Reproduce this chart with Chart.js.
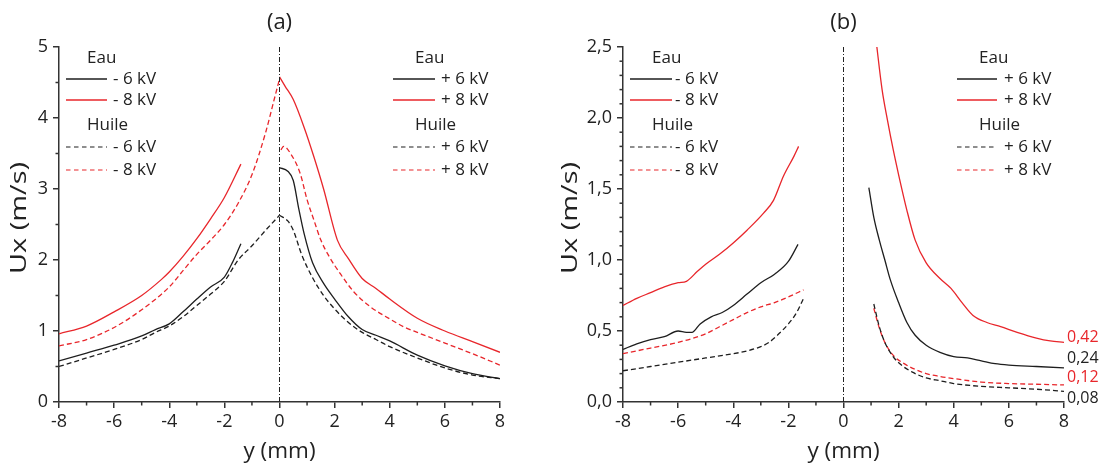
<!DOCTYPE html>
<html><head><meta charset="utf-8">
<script src="https://cdn.jsdelivr.net/npm/chart.js@4.4.1/dist/chart.umd.min.js"></script>
<style>
html,body{margin:0;padding:0;background:#fff;}
#wrap{position:relative;width:1105px;height:471px;overflow:hidden;background:#fff;}
canvas{position:absolute;top:0;}
#ca{left:0;} #cb{left:550px;}
</style></head><body>
<div id="wrap"><canvas id="ca" width="550" height="471"></canvas><canvas id="cb" width="555" height="471"></canvas></div>
<script>
// ---------- DATA ----------
// Panel (a)
const aEauM6   = [[-8,0.58],[-7,0.69],[-6,0.8],[-5,0.93],[-4.5,1.02],[-4,1.1],[-3.5,1.27],[-3,1.45],[-2.5,1.62],[-2,1.76],[-1.7,1.97],[-1.4,2.23]];
const aEauM8   = [[-8,0.96],[-7,1.07],[-6,1.27],[-5,1.5],[-4.3,1.72],[-4,1.83],[-3.5,2.05],[-3,2.3],[-2.5,2.58],[-2,2.88],[-1.4,3.35]];
const aHuileM6 = [[-8,0.5],[-7,0.62],[-6,0.74],[-5,0.88],[-4.5,0.98],[-4,1.07],[-3.5,1.2],[-3,1.36],[-2.5,1.52],[-2,1.7],[-1.5,2.0],[-1,2.2],[-0.5,2.42],[0,2.63]];
const aHuileM8 = [[-8,0.79],[-7,0.88],[-6,1.05],[-5,1.3],[-4,1.62],[-3.5,1.85],[-3,2.08],[-2.5,2.28],[-2,2.5],[-1.5,2.8],[-1,3.2],[-0.5,3.8],[-0.2,4.25],[0,4.55]];
const aEauP6   = [[0,3.3],[0.3,3.25],[0.5,3.12],[0.7,2.72],[0.9,2.36],[1.2,1.96],[1.6,1.67],[2,1.45],[2.5,1.2],[3,1.02],[3.5,0.94],[4,0.86],[5,0.66],[6,0.51],[7,0.4],[8,0.33]];
const aEauP8   = [[0,4.58],[0.2,4.45],[0.5,4.26],[0.9,3.86],[1.25,3.45],[1.6,3.0],[2.1,2.28],[2.5,2.02],[3,1.74],[3.5,1.6],[4,1.45],[5,1.18],[6,1.0],[7,0.85],[8,0.7]];
const aHuileP6 = [[0,2.63],[0.3,2.55],[0.5,2.42],[0.8,2.08],[1.2,1.75],[1.6,1.5],[2,1.31],[2.5,1.12],[3,0.98],[3.5,0.88],[4,0.78],[5,0.62],[6,0.48],[7,0.38],[8,0.33]];
const aHuileP8 = [[0.05,3.55],[0.15,3.6],[0.4,3.5],[0.75,3.22],[1.0,2.85],[1.25,2.56],[1.5,2.28],[1.8,2.05],[2.2,1.81],[2.7,1.55],[3.3,1.34],[4,1.17],[4.5,1.06],[5,0.98],[6,0.83],[7,0.68],[8,0.52]];
// Panel (b)
const bEauM6   = [[-8,0.37],[-7.5,0.41],[-7,0.44],[-6.5,0.46],[-6,0.5],[-5.7,0.49],[-5.5,0.49],[-5.2,0.55],[-4.8,0.6],[-4.4,0.63],[-4,0.68],[-3.5,0.76],[-3,0.84],[-2.5,0.9],[-2,0.99],[-1.65,1.11]];
const bEauM8   = [[-8,0.68],[-7.5,0.73],[-7,0.77],[-6.5,0.81],[-6,0.84],[-5.7,0.85],[-5.3,0.92],[-5,0.97],[-4.5,1.04],[-4,1.12],[-3.5,1.21],[-2.9,1.33],[-2.54,1.42],[-2.18,1.59],[-1.8,1.73],[-1.63,1.8]];
const bHuileM6 = [[-8,0.22],[-7,0.25],[-6,0.28],[-5,0.31],[-4,0.34],[-3.5,0.36],[-3,0.39],[-2.7,0.42],[-2.4,0.47],[-2,0.55],[-1.7,0.63],[-1.45,0.73]];
const bHuileM8 = [[-8,0.34],[-7,0.38],[-6,0.42],[-5,0.48],[-4.5,0.53],[-4,0.58],[-3.5,0.63],[-3,0.67],[-2.5,0.7],[-2,0.74],[-1.45,0.79]];
const bEauP6   = [[0.92,1.51],[1.1,1.3],[1.3,1.14],[1.5,1.0],[1.7,0.86],[2.0,0.7],[2.3,0.56],[2.6,0.47],[3,0.4],[3.5,0.35],[4,0.32],[4.5,0.31],[5,0.29],[5.5,0.27],[6,0.26],[7,0.25],[8,0.24]];
const bEauP8   = [[1.18,2.55],[1.4,2.2],[1.6,1.98],[1.8,1.78],[2.0,1.6],[2.3,1.35],[2.6,1.14],[3.0,0.98],[3.5,0.87],[3.9,0.8],[4.3,0.7],[4.7,0.61],[5.2,0.56],[5.7,0.53],[6.3,0.49],[7,0.45],[7.5,0.43],[8,0.42]];
const bHuileP6 = [[1.1,0.69],[1.3,0.53],[1.5,0.42],[1.8,0.32],[2.1,0.26],[2.5,0.21],[3,0.17],[3.5,0.15],[4,0.13],[5,0.11],[6,0.1],[7,0.09],[8,0.075]];
const bHuileP8 = [[1.1,0.66],[1.3,0.52],[1.5,0.42],[1.8,0.33],[2.2,0.27],[2.6,0.23],[3,0.2],[3.5,0.18],[4,0.165],[5,0.14],[6,0.13],[7,0.125],[8,0.12]];

// Tick values & labels
const xTicks      = [-8,-6,-4,-2,0,2,4,6,8];
const xTickLabels = ['-8','-6','-4','-2','0','2','4','6','8'];
const aYTicks      = [0,1,2,3,4,5];
const aYTickLabels = ['0','1','2','3','4','5'];
const bYTicks      = [0,0.5,1,1.5,2,2.5];
const bYTickLabels = ['0,0','0,5','1,0','1,5','2,0','2,5'];

// Texts
const panelTitles = ['(a)','(b)'];
const xTitle = 'y (mm)';
const yTitle = 'Ux (m/s)';
const groupHeaders = ['Eau','Huile'];
const negLabels = ['- 6 kV','- 8 kV'];
const posLabels = ['+ 6 kV','+ 8 kV'];
const bEndLabels = ['0,42','0,24','0,12','0,08'];

// ---------- STYLE ----------
const FONT = "'Open Sans', 'Liberation Sans', sans-serif";
const RED = '#e8262b', BLACK = '#1e1e1e', AXIS = '#333333', TXT = '#222222';

function pts(arr){ return arr.map(p => ({x:p[0], y:p[1]})); }
function ds(data, color, dashed){
  return {data: pts(data), borderColor: color, borderWidth: 1.3, borderDash: dashed ? [5,3] : [],
          pointRadius: 0, fill: false, cubicInterpolationMode: 'monotone'};
}
function vline(ymax){
  return {data: [{x:0,y:0},{x:0,y:ymax}], borderColor: '#222', borderWidth: 1,
          borderDash: [5,2,1,2], pointRadius: 0, fill: false, tension: 0};
}

const decor = {
  id: 'decor',
  afterDraw(chart, args, o){
    const ctx = chart.ctx, ca = chart.chartArea, xs = chart.scales.x, ys = chart.scales.y;
    ctx.save();
    // minor ticks
    ctx.strokeStyle = AXIS; ctx.lineWidth = 1.5;
    o.xMinor.forEach(v => {
      const px = xs.getPixelForValue(v);
      ctx.beginPath(); ctx.moveTo(px, ca.bottom); ctx.lineTo(px, ca.bottom + 3.5); ctx.stroke();
    });
    o.yMinor.forEach(v => {
      const py = ys.getPixelForValue(v);
      ctx.beginPath(); ctx.moveTo(ca.left, py); ctx.lineTo(ca.left - 3.5, py); ctx.stroke();
    });
    // panel title
    ctx.fillStyle = TXT; ctx.textAlign = 'center'; ctx.textBaseline = 'middle';
    ctx.font = '22px ' + FONT;
    ctx.fillText(o.title, (ca.left + ca.right) / 2, 23);
    // y axis title (stretched along its length like the reference)
    ctx.save();
    ctx.translate(o.yTitleX, 218);
    ctx.rotate(-Math.PI / 2);
    ctx.scale(1.38, 1);
    ctx.font = '21px ' + FONT;
    ctx.fillText(yTitle, 0, 0);
    ctx.restore();
    // legends
    ctx.font = '17px ' + FONT; ctx.textAlign = 'left';
    o.legends.forEach(L => {
      ctx.fillStyle = TXT;
      ctx.fillText(groupHeaders[0], L.hx, 58);
      ctx.fillText(groupHeaders[1], L.hx, 125);
      const rows = [
        {y:79,  c:BLACK, d:false, t:L.labels[0]},
        {y:100, c:RED,   d:false, t:L.labels[1]},
        {y:147, c:BLACK, d:true,  t:L.labels[0]},
        {y:170, c:RED,   d:true,  t:L.labels[1]}
      ];
      rows.forEach(r => {
        ctx.strokeStyle = r.c; ctx.lineWidth = r.d ? 1.2 : 1.5;
        ctx.setLineDash(r.d ? [4.5,3.5] : []);
        ctx.beginPath(); ctx.moveTo(L.x1, r.y); ctx.lineTo(L.x2, r.y); ctx.stroke();
        ctx.setLineDash([]);
        ctx.fillStyle = TXT;
        ctx.fillText(r.t, L.tx, r.y);
      });
    });
    // end annotations
    if (o.ends){
      ctx.font = '16px ' + FONT; ctx.textAlign = 'left';
      o.ends.forEach((e, i) => {
        ctx.fillStyle = e.c;
        ctx.fillText(bEndLabels[i], o.endX, e.y);
      });
    }
    ctx.restore();
  }
};

function scalesFor(yMin, yMax, yTicks, yLabels, yWidth){
  const tickFont = {family: FONT, size: 18};
  return {
    x: {
      type: 'linear', min: -8, max: 8,
      afterFit(s){ s.height = 69; },
      afterBuildTicks(s){ s.ticks = xTicks.map(v => ({value: v})); },
      ticks: {color: TXT, font: tickFont, padding: 3, maxRotation: 0,
              callback: (v) => xTickLabels[xTicks.indexOf(v)]},
      grid: {drawOnChartArea: false, drawTicks: true, tickLength: 6, color: AXIS, lineWidth: 1.5},
      border: {display: true, color: AXIS, width: 1.5},
      title: {display: true, text: xTitle, color: TXT, font: {family: FONT, size: 22.5}, padding: {top: 0, bottom: 6}}
    },
    y: {
      type: 'linear', min: yMin, max: yMax,
      afterFit(s){ s.width = yWidth; },
      afterBuildTicks(s){ s.ticks = yTicks.map(v => ({value: v})); },
      ticks: {color: TXT, font: tickFont, padding: 5,
              callback: (v) => yLabels[yTicks.indexOf(v)]},
      grid: {drawOnChartArea: false, drawTicks: true, tickLength: 6, color: AXIS, lineWidth: 1.5},
      border: {display: true, color: AXIS, width: 1.5},
      title: {display: false}
    }
  };
}

const xMinor = [-7,-5,-3,-1,1,3,5,7];
const aYMinor = [0.5,1.5,2.5,3.5,4.5];
const bYMinor = [];
for (let i = 0; i <= 25; i++) { if (i % 5 !== 0) bYMinor.push(i / 10); }

new Chart(document.getElementById('ca'), {
  type: 'line',
  data: {datasets: [
    vline(5),
    ds(aHuileM6, BLACK, true), ds(aHuileM8, RED, true),
    ds(aHuileP6, BLACK, true), ds(aHuileP8, RED, true),
    ds(aEauM6, BLACK, false), ds(aEauM8, RED, false),
    ds(aEauP6, BLACK, false), ds(aEauP8, RED, false)
  ]},
  options: {
    responsive: false, animation: false, devicePixelRatio: 1,
    layout: {padding: {left: 0, right: 50, top: 47, bottom: 0}},
    plugins: {legend: {display: false}, tooltip: {enabled: false},
      decor: {title: panelTitles[0], xMinor: xMinor, yMinor: aYMinor, yTitleX: 20,
        legends: [{hx: 87, x1: 66, x2: 107, tx: 113, labels: negLabels},
                  {hx: 415, x1: 393, x2: 435, tx: 441, labels: posLabels}]}},
    scales: scalesFor(0, 5, aYTicks, aYTickLabels, 59)
  },
  plugins: [decor]
});

new Chart(document.getElementById('cb'), {
  type: 'line',
  data: {datasets: [
    vline(2.5),
    ds(bHuileM6, BLACK, true), ds(bHuileM8, RED, true),
    ds(bHuileP6, BLACK, true), ds(bHuileP8, RED, true),
    ds(bEauM6, BLACK, false), ds(bEauM8, RED, false),
    ds(bEauP6, BLACK, false), ds(bEauP8, RED, false)
  ]},
  options: {
    responsive: false, animation: false, devicePixelRatio: 1,
    layout: {padding: {left: 0, right: 41, top: 47, bottom: 0}},
    plugins: {legend: {display: false}, tooltip: {enabled: false},
      decor: {title: panelTitles[1], xMinor: xMinor, yMinor: bYMinor, yTitleX: 21.5,
        legends: [{hx: 102, x1: 80, x2: 122, tx: 125, labels: negLabels},
                  {hx: 429, x1: 407, x2: 447, tx: 454, labels: posLabels}],
        endX: 517,
        ends: [{y: 337, c: RED}, {y: 358, c: TXT}, {y: 377, c: RED}, {y: 398, c: TXT}]}},
    scales: scalesFor(0, 2.5, bYTicks, bYTickLabels, 73)
  },
  plugins: [decor]
});
</script>
</body></html>
